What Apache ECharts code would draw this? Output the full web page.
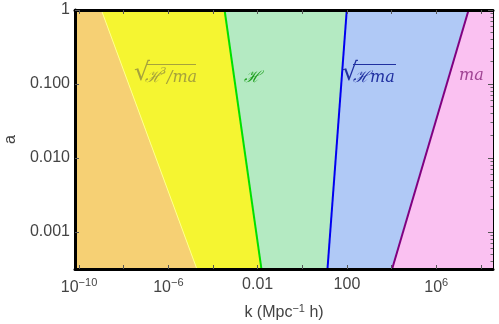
<!DOCTYPE html>
<html><head><meta charset="utf-8">
<script src="https://cdn.jsdelivr.net/npm/echarts@6/dist/echarts.min.js"></script>
<style>html,body{margin:0;padding:0;background:#fff}#c{width:499px;height:324px}</style>
</head><body><div id="c"></div>
<script>
// scale factor a at the two ends of each boundary line
const aEnds = [1, 0.000316];
// k of each boundary at those a values
const kSqrtH3ma = [1.0e-9, 1.9e-5];
const kH = [3.3e-4, 0.0148];
const kSqrtHma = [98, 13.4];
const kMa = [2.8e7, 1.05e4];
// axis ranges (log10)
const xRange = [-10.18, 8.54];
const yRange = [-3.5, 0];
// tick labels
const xLabelExps = [-10, -6, -2, 2, 6];
const xLabelTexts = ['10{s|−10}', '10{s|−6}', '0.01', '100', '10{s|6}'];
const xTickExps = [-10, -8, -6, -4, -2, 0, 2, 4, 6, 8];
const yLabelExps = [0, -1, -2, -3];
const yLabelTexts = ['1', '0.100', '0.010', '0.001'];
// region fills and line colours
const regionColors = ['#f6d074', '#f5f531', '#b4eac2', '#b0c9f6', '#fac1f1'];
const lineColors = ['#ffff90', '#00e000', '#0000f0', '#800080'];

const L = Math.log10;
const bounds = [kSqrtH3ma, kH, kSqrtHma, kMa];
const yMinor = [];
for (let d = -4; d <= 0; d++) for (let m = 2; m <= 9; m++) { const v = d + L(m); if (v > yRange[0] && v < yRange[1]) yMinor.push(v); }

const ya = aEnds.map(L);
function regionPts(i) {
  const left = i === 0 ? [xRange[0] - 1, xRange[0] - 1] : bounds[i - 1].map(L);
  const right = i === bounds.length ? [xRange[1] + 1, xRange[1] + 1] : bounds[i].map(L);
  return [[left[0], ya[0]], [right[0], ya[0]], [right[1], ya[1]], [left[1], ya[1]]];
}

const series = [{
  type: 'custom', clip: true, silent: true, z: 1,
  data: regionColors.map((c, i) => [i]),
  renderItem: (params, api) => {
    const i = api.value(0);
    const pts = regionPts(i).map(p => api.coord(p));
    return { type: 'polygon', shape: { points: pts }, style: { fill: regionColors[i], stroke: regionColors[i], lineWidth: 0.5 } };
  }
}];
bounds.forEach((b, j) => {
  series.push({
    type: 'line', silent: true, symbol: 'none', z: 2,
    data: b.map((k, n) => [L(k), ya[n]]),
    lineStyle: { color: lineColors[j], width: j === 0 ? 1 : 2 }
  });
});

const tickFont = { color: '#444', fontSize: 16, fontFamily: 'Liberation Sans, Arial' };
const chart = echarts.init(document.getElementById('c'));
chart.setOption({
  animation: false,
  grid: { left: 75, right: 6, top: 10, bottom: 55, outerBoundsMode: 'none', containLabel: false },
  xAxis: [{
    type: 'value', min: xRange[0], max: xRange[1], position: 'bottom', z: 10,
    name: 'k (Mpc{s|−1} h)', nameLocation: 'middle', nameGap: 34,
    nameTextStyle: Object.assign({}, tickFont, { rich: { s: { fontSize: 11, verticalAlign: 'top', color: '#444', padding: [0, 0, 8, 0] } } }),
    axisLine: { show: true, onZero: false, lineStyle: { color: '#000', width: 3 } },
    axisTick: { show: true, inside: true, length: 4, customValues: xTickExps, lineStyle: { color: '#555', width: 1 } },
    axisLabel: Object.assign({}, tickFont, {
      customValues: xLabelExps, margin: 8,
      formatter: v => xLabelTexts[xLabelExps.indexOf(Math.round(v))] || '',
      rich: { s: { fontSize: 11, color: '#444', verticalAlign: 'top', padding: [0, 0, 10, 0] } }
    }),
    splitLine: { show: false }
  }, {
    type: 'value', min: xRange[0], max: xRange[1], position: 'top', z: 10,
    axisLine: { show: true, onZero: false, lineStyle: { color: '#000', width: 3 } },
    axisTick: { show: true, inside: true, length: 4, customValues: xTickExps, lineStyle: { color: '#555', width: 1 } },
    axisLabel: { show: false }, splitLine: { show: false }
  }],
  yAxis: [{
    type: 'value', min: yRange[0], max: yRange[1], position: 'left', z: 10,
    name: 'a', nameLocation: 'middle', nameGap: 56, nameRotate: 90,
    nameTextStyle: tickFont,
    axisLine: { show: true, onZero: false, lineStyle: { color: '#000', width: 3 } },
    axisTick: { show: true, inside: true, length: 4, customValues: yLabelExps, lineStyle: { color: '#555', width: 1 } },
    axisLabel: Object.assign({}, tickFont, { customValues: yLabelExps, margin: 5,
      formatter: v => yLabelTexts[yLabelExps.indexOf(Math.round(v))] || '' }),
    splitLine: { show: false }
  }, {
    type: 'value', min: yRange[0], max: yRange[1], position: 'right', z: 10,
    axisLine: { show: true, onZero: false, lineStyle: { color: '#000', width: 1 } },
    axisTick: { show: true, inside: true, length: 5, customValues: yLabelExps, lineStyle: { color: '#555', width: 1 } },
    axisLabel: { show: false }, splitLine: { show: false }
  }, {
    type: 'value', min: yRange[0], max: yRange[1], position: 'right', z: 10,
    axisLine: { show: false, onZero: false },
    axisTick: { show: true, inside: true, length: 2.5, customValues: yMinor, lineStyle: { color: '#666', width: 1 } },
    axisLabel: { show: false }, splitLine: { show: false }
  }],
  series: series,
  graphic: { elements: [
    { type: 'text', z: 100, left: 134, top: 61, style: { text: '√', font: '25px DejaVu Serif', fill: '#a6a23c' } },
    { type: 'text', z: 100, left: 145, top: 70, style: { text: 'ℋ', font: 'italic 16px DejaVu Serif', fill: '#a6a23c' } },
    { type: 'text', z: 100, left: 160, top: 66, style: { text: '3', font: 'italic 10px DejaVu Serif', fill: '#a6a23c' } },
    { type: 'text', z: 100, left: 167, top: 70, style: { text: '/ma', font: 'italic 16px DejaVu Serif', fill: '#a6a23c' } },
    { type: 'line', z: 100, shape: { x1: 146, y1: 64.5, x2: 196, y2: 64.5 }, style: { stroke: '#a6a23c', lineWidth: 1 } },
    { type: 'text', z: 100, left: 244, top: 70, style: { text: 'ℋ', font: 'italic 16px DejaVu Serif', fill: '#1fa01f' } },
    { type: 'text', z: 100, left: 342, top: 61, style: { text: '√', font: '25px DejaVu Serif', fill: '#2030a0' } },
    { type: 'text', z: 100, left: 353, top: 70, style: { text: 'ℋma', font: 'italic 16px DejaVu Serif', fill: '#2030a0' } },
    { type: 'line', z: 100, shape: { x1: 353, y1: 64.5, x2: 396, y2: 64.5 }, style: { stroke: '#2030a0', lineWidth: 1 } },
    { type: 'text', z: 100, left: 459, top: 68, style: { text: 'ma', font: 'italic 16px DejaVu Serif', fill: '#a04494' } }
  ] }
});
</script></body></html>
